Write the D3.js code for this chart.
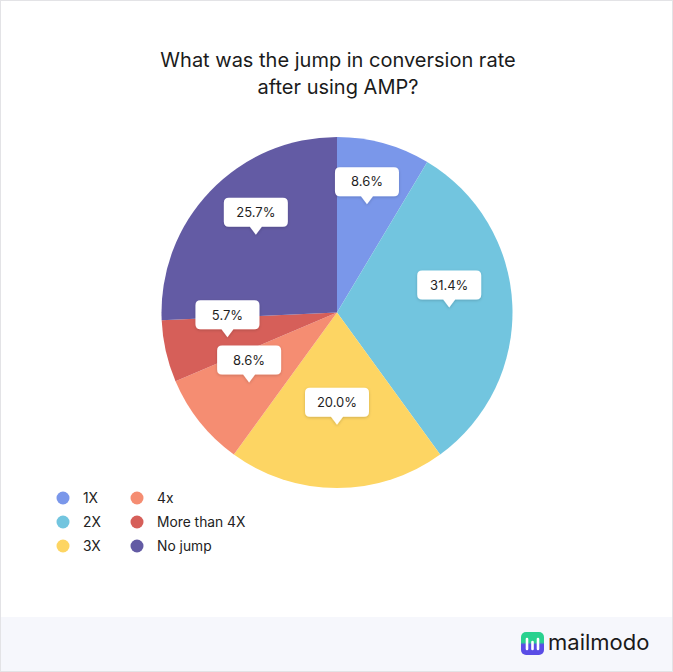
<!DOCTYPE html>
<html>
<head>
<meta charset="utf-8">
<script src="https://cdn.jsdelivr.net/npm/d3@7"></script>
<style>
  html, body { margin: 0; padding: 0; background: #fff; }
  svg { display: block; font-family: Inter, "Noto Sans", sans-serif; }
</style>
</head>
<body>
<svg id="chart" width="673" height="672"></svg>
<script>
const categories = ["1X", "2X", "3X", "4x", "More than 4X", "No jump"];
const values = [8.6, 31.4, 20.0, 8.6, 5.7, 25.7];
const colors = ["#7a97ea", "#72c5df", "#fdd563", "#f58d72", "#d65f59", "#635ba4"];
const titleLines = ["What was the jump in conversion rate", "after using AMP?"];

const W = 673, H = 672;
const svg = d3.select("#chart");

// frame and footer
svg.append("rect").attr("x", 0.5).attr("y", 0.5).attr("width", W - 1).attr("height", H - 1)
  .attr("fill", "#fff").attr("stroke", "#e3e3e6");
svg.append("rect").attr("x", 1).attr("y", 617).attr("width", W - 2).attr("height", H - 618)
  .attr("fill", "#f6f7fc");

const defs = svg.append("defs");
const sh = defs.append("filter").attr("id", "shadow").attr("x", "-30%").attr("y", "-30%").attr("width", "160%").attr("height", "170%");
sh.append("feDropShadow").attr("dx", 0).attr("dy", 1).attr("stdDeviation", 1.5).attr("flood-color", "#000").attr("flood-opacity", 0.18);
const lg = defs.append("linearGradient").attr("id", "logoGrad").attr("x1", 0).attr("y1", 0).attr("x2", 0).attr("y2", 1);
lg.append("stop").attr("offset", "0%").attr("stop-color", "#29d18f");
lg.append("stop").attr("offset", "45%").attr("stop-color", "#29d18f");
lg.append("stop").attr("offset", "55%").attr("stop-color", "#5a4de6");
lg.append("stop").attr("offset", "100%").attr("stop-color", "#5a4de6");

// title
svg.append("text").attr("x", 338).attr("y", 67).attr("text-anchor", "middle")
  .attr("font-size", 20).attr("fill", "#1b1b1b")
  .selectAll("tspan").data(titleLines).join("tspan")
  .attr("x", 338).attr("dy", (d, i) => i === 0 ? 0 : 27).text(d => d);

// pie
const cx = 337, cy = 312.5, R = 175.5;
const data = categories.map((c, i) => ({ cat: c, value: values[i], color: colors[i] }));
const pie = d3.pie().value(d => d.value).sort(null);
const arcs = pie(data);
const arc = d3.arc().innerRadius(0).outerRadius(R);
const g = svg.append("g").attr("transform", `translate(${cx},${cy})`);
g.selectAll("path.slice").data(arcs).join("path").attr("class", "slice")
  .attr("d", arc).attr("fill", d => d.data.color);

// callout labels
const labelArc = d3.arc().innerRadius(R * 0.64).outerRadius(R * 0.64);
const boxW = 64, boxH = 29, tipH = 8, tipW = 12, rr = 5;
function calloutPath(w, h) {
  const x0 = -w / 2, x1 = w / 2, y0 = -tipH - h, y1 = -tipH;
  return `M${x0 + rr},${y0} H${x1 - rr} Q${x1},${y0} ${x1},${y0 + rr} V${y1 - rr} Q${x1},${y1} ${x1 - rr},${y1}` +
    ` H${tipW / 2} L0,0 L${-tipW / 2},${y1} H${x0 + rr} Q${x0},${y1} ${x0},${y1 - rr} V${y0 + rr} Q${x0},${y0} ${x0 + rr},${y0} Z`;
}
const labels = g.selectAll("g.lab").data(arcs).join("g").attr("class", "lab")
  .attr("transform", d => { const [x, y] = labelArc.centroid(d); return `translate(${x},${y})`; });
labels.append("path").attr("d", calloutPath(boxW, boxH)).attr("fill", "#fff").attr("filter", "url(#shadow)");
labels.append("text").attr("text-anchor", "middle").attr("y", -tipH - boxH / 2 + 4.7)
  .attr("font-size", 13).attr("fill", "#1f1f1f").text(d => d.data.value.toFixed(1) + "%");

// legend
const legend = svg.append("g");
const legItems = legend.selectAll("g").data(data).join("g")
  .attr("transform", (d, i) => `translate(${63 + Math.floor(i / 3) * 74},${498 + (i % 3) * 24})`);
legItems.append("circle").attr("r", 6.5).attr("fill", d => d.color);
legItems.append("text").attr("x", 20).attr("y", 4.8).attr("font-size", 13.8).attr("fill", "#222").text(d => d.cat);

// logo
const logo = svg.append("g").attr("transform", "translate(521,632)");
logo.append("rect").attr("width", 23).attr("height", 23).attr("rx", 5).attr("fill", "url(#logoGrad)");
logo.append("path").attr("d", "M6,17 V7 M11.5,17 V10 M17,17 V7").attr("stroke", "#fff").attr("stroke-width", 2.6)
  .attr("stroke-linecap", "round").attr("fill", "none");
svg.append("text").attr("x", 548).attr("y", 650).attr("font-size", 22).attr("fill", "#1a1a1a")
  .attr("font-family", "Inter, sans-serif").attr("font-weight", 400).text("mailmodo");
</script>
</body>
</html>
